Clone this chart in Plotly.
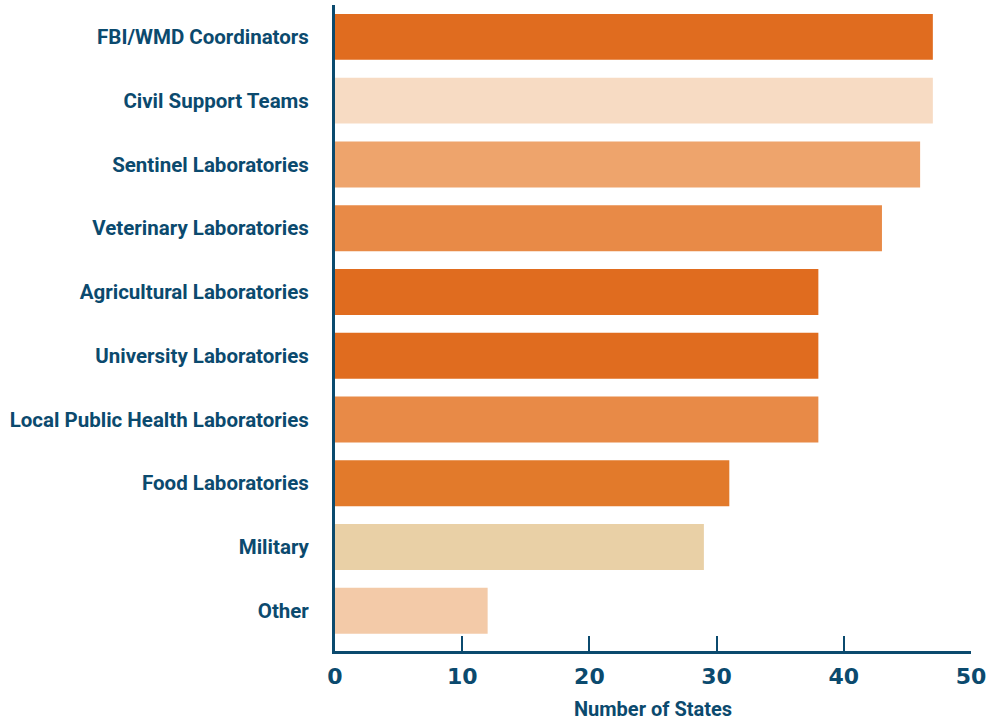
import plotly.graph_objects as go

# Partner types and number of states reporting each, top to bottom
categories = [
    "FBI/WMD Coordinators",
    "Civil Support Teams",
    "Sentinel Laboratories",
    "Veterinary Laboratories",
    "Agricultural Laboratories",
    "University Laboratories",
    "Local Public Health Laboratories",
    "Food Laboratories",
    "Military",
    "Other",
]
states = [47, 47, 46, 43, 38, 38, 38, 31, 29, 12]
bar_colors = [
    "#E06C1F", "#F7DBC3", "#EEA46C", "#E88A47", "#E06C1F",
    "#E06C1F", "#E88A47", "#E27A2B", "#E9D0A6", "#F3CAA8",
]
x_ticks = [0, 10, 20, 30, 40, 50]

NAVY = "#0B4A6E"
n = len(categories)
# Plot bottom-up so the first category sits at the top
ypos = [n - 1 - i for i in range(n)]

fig = go.Figure(
    go.Bar(
        x=states,
        y=ypos,
        orientation="h",
        marker=dict(color=bar_colors, line=dict(width=0)),
        width=0.72,
        hoverinfo="x+text",
        hovertext=categories,
    )
)

fig.update_layout(
    width=987,
    height=721,
    margin=dict(l=335, r=16, t=5, b=70),
    paper_bgcolor="white",
    plot_bgcolor="white",
    showlegend=False,
    xaxis=dict(
        automargin=False,
        range=[0, 50],
        tickvals=x_ticks,
        ticktext=[str(v) for v in x_ticks],
        ticks="inside",
        ticklen=15,
        tickwidth=2,
        tickcolor=NAVY,
        showline=True,
        linecolor=NAVY,
        linewidth=3,
        showgrid=False,
        zeroline=False,
        ticklabelstandoff=4,
        tickfont=dict(family="DejaVu Sans", size=22, color=NAVY, weight="bold"),
        title=dict(
            text="Number of States",
            font=dict(family="Roboto, sans-serif", size=20,
                      color=NAVY, weight="bold"),
            standoff=22,
        ),
    ),
    yaxis=dict(
        automargin=False,
        range=[-0.63, 9.5],
        tickvals=ypos,
        ticktext=categories,
        ticks="",
        showline=True,
        linecolor=NAVY,
        linewidth=3,
        showgrid=False,
        zeroline=False,
        ticklabelstandoff=19,
        tickfont=dict(family="Roboto, sans-serif", size=20.5,
                      color=NAVY, weight="bold"),
    ),
)

fig.write_html("out.html")
